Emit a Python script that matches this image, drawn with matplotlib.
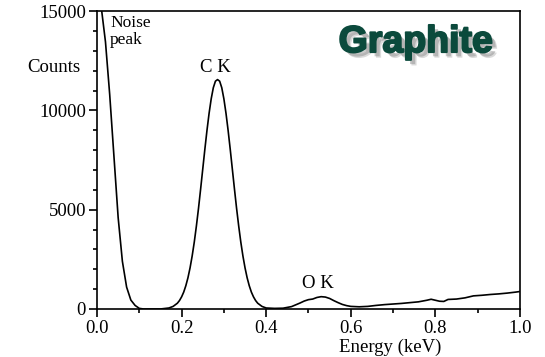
import matplotlib
matplotlib.use("Agg")
import matplotlib.pyplot as plt
import matplotlib.patheffects as pe
from matplotlib.ticker import MultipleLocator

plt.rcParams['font.family'] = 'serif'
plt.rcParams['font.serif'] = ['Liberation Serif', 'DejaVu Serif']

# spectrum (energy in keV, counts)
energy = [0.0, 0.01, 0.02, 0.03, 0.04, 0.05, 0.06, 0.07, 0.08, 0.09, 0.10,
          0.11, 0.13, 0.15, 0.17, 0.18, 0.19, 0.195, 0.20, 0.205, 0.21, 0.215,
          0.22, 0.225, 0.23, 0.235, 0.24, 0.245, 0.25, 0.255, 0.26, 0.265,
          0.27, 0.275, 0.28, 0.285, 0.29, 0.295, 0.30, 0.305, 0.31, 0.315,
          0.32, 0.325, 0.33, 0.335, 0.34, 0.345, 0.35, 0.355, 0.36, 0.365,
          0.37, 0.375, 0.38, 0.39, 0.40, 0.42, 0.44, 0.46, 0.48, 0.49, 0.50,
          0.51, 0.52, 0.53, 0.54, 0.55, 0.56, 0.57, 0.58, 0.59, 0.60, 0.62,
          0.64, 0.66, 0.68, 0.70, 0.72, 0.74, 0.76, 0.78, 0.79, 0.80, 0.81,
          0.82, 0.83, 0.85, 0.87, 0.89, 0.91, 0.93, 0.95, 0.97, 0.99, 1.00]
counts = [17000, 15200, 13450, 10800, 7700, 4600, 2400, 1100, 450, 180, 30,
          0, 0, 0, 50, 130, 290, 425, 610, 850, 1170, 1570,
          2070, 2670, 3370, 4180, 5070, 6040, 7040, 8040, 8990, 9850,
          10580, 11140, 11470, 11550, 11470, 11140, 10580, 9850, 8990, 8040,
          7040, 6040, 5070, 4180, 3370, 2670, 2070, 1570, 1170, 850,
          610, 425, 290, 130, 50, 30, 40, 120, 300, 400, 470,
          500, 580, 620, 600, 530, 420, 320, 230, 170, 130, 110,
          130, 180, 220, 250, 280, 320, 360, 440, 490, 440, 390,
          380, 480, 500, 560, 660, 690, 730, 760, 800, 850, 880]

fig = plt.figure(figsize=(5.45, 3.57), dpi=100)
ax = fig.add_axes([0.178, 0.1345, 0.776, 0.8345])

ax.plot(energy, counts, color='black', lw=1.2)

ax.set_xlim(0, 1.0)
ax.set_ylim(0, 15000)
ax.xaxis.set_major_locator(MultipleLocator(0.2))
ax.xaxis.set_minor_locator(MultipleLocator(0.1))
ax.yaxis.set_major_locator(MultipleLocator(5000))
ax.yaxis.set_minor_locator(MultipleLocator(1000))
ax.xaxis.set_major_formatter(matplotlib.ticker.FormatStrFormatter('%.1f'))
ax.tick_params(which='both', direction='out', labelsize=13.5, width=1.2, pad=2)
ax.tick_params(which='major', length=6)
ax.tick_params(which='minor', length=3)
for s in ax.spines.values():
    s.set_linewidth(1.2)

ax.text(-0.102, 0.812, 'Counts', transform=ax.transAxes, ha='center',
        va='center', fontsize=13.5)
ax.text(0.693, -0.128, 'Energy (keV)', transform=ax.transAxes, ha='center',
        va='center', fontsize=13.5)

ax.text(0.031, 14800, 'Noise\npeak', ha='left', va='top', fontsize=12.5,
        linespacing=1.05)
ax.text(0.279, 12180, 'C K', ha='center', va='center', fontsize=13.5)
ax.text(0.522, 1260, 'O K', ha='center', va='center', fontsize=13.5)

green = '#0b4a3c'
fig.text(0.763, 0.882, 'Graphite', family='Liberation Sans', weight='bold',
         fontsize=27, color=green, ha='center', va='center',
         path_effects=[pe.SimplePatchShadow(offset=(4, -4), shadow_rgbFace='#999999', alpha=0.35),
                       pe.SimplePatchShadow(offset=(3, -3), shadow_rgbFace='#888888', alpha=0.45),
                       pe.Stroke(linewidth=1.4, foreground=green),
                       pe.Normal()])

fig.savefig('out.png', dpi=100)
